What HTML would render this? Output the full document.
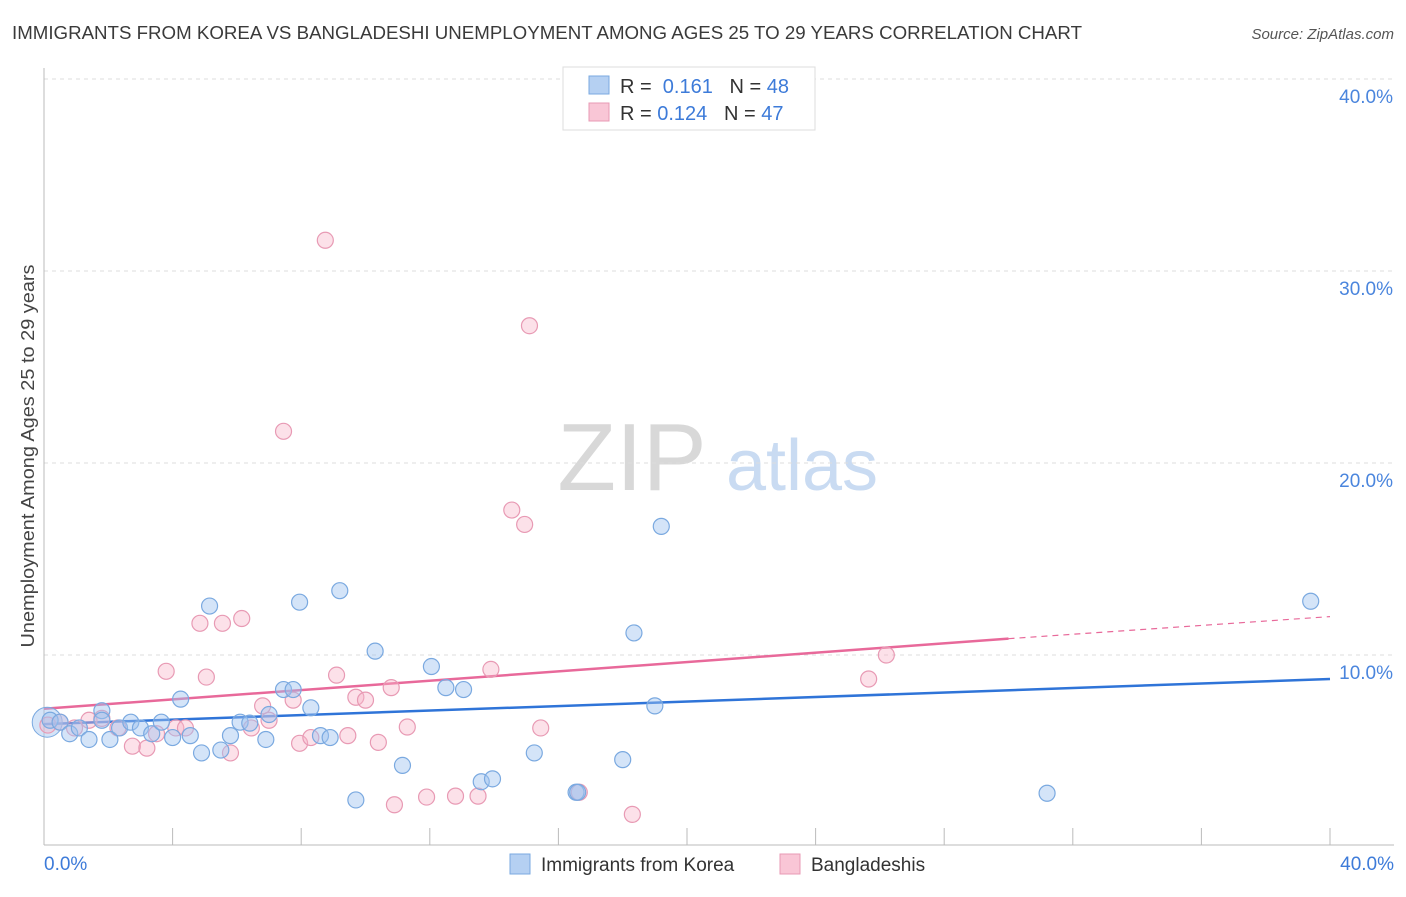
<!DOCTYPE html>
<html><head><meta charset="utf-8"><style>
body{margin:0;background:#fff;font-family:"Liberation Sans",sans-serif;}
svg text{font-family:"Liberation Sans",sans-serif;}
</style></head><body>
<svg id="chart" width="1406" height="892" xmlns="http://www.w3.org/2000/svg">
<text x="12" y="39" font-size="18" fill="#3a3a3a" textLength="1070" lengthAdjust="spacingAndGlyphs">IMMIGRANTS FROM KOREA VS BANGLADESHI UNEMPLOYMENT AMONG AGES 25 TO 29 YEARS CORRELATION CHART</text>
<text x="1394" y="39" font-size="15" fill="#555" text-anchor="end" font-style="italic">Source: ZipAtlas.com</text>
<g>
<text x="632" y="490" font-size="96" fill="#d8d8d8" text-anchor="middle" font-family="Liberation Serif,serif">ZIP</text>
<text x="802" y="490" font-size="72" fill="#c9dbf2" text-anchor="middle">atlas</text>
</g>
<g id="grid"></g><g id="axes"></g><g id="lines"></g><g id="pts"></g>
<text transform="translate(34,456) rotate(-90)" font-size="18" fill="#444" text-anchor="middle" textLength="383" lengthAdjust="spacingAndGlyphs">Unemployment Among Ages 25 to 29 years</text>
<g>
<rect x="563" y="67" width="252" height="63" fill="#fff" stroke="#ddd"/>
<rect x="589" y="76" width="20" height="18" fill="#b5d0f2" stroke="#7aa9e0"/>
<rect x="589" y="103" width="20" height="18" fill="#f9c6d6" stroke="#e89ab4"/>
<text x="620" y="93" font-size="20" fill="#333">R = <tspan fill="#3d7bd9">&#160;0.161</tspan>&#160;&#160;&#160;N = <tspan fill="#3d7bd9">48</tspan></text>
<text x="620" y="120" font-size="20" fill="#333">R = <tspan fill="#3d7bd9">0.124</tspan>&#160;&#160;&#160;N = <tspan fill="#3d7bd9">47</tspan></text>
</g>
<g>
<rect x="510" y="854" width="20" height="20" fill="#b5d0f2" stroke="#7aa9e0"/>
<text x="541" y="871" font-size="19" fill="#333">Immigrants from Korea</text>
<rect x="780" y="854" width="20" height="20" fill="#f9c6d6" stroke="#e89ab4"/>
<text x="811" y="871" font-size="19" fill="#333">Bangladeshis</text>
</g>
<text x="44" y="870" font-size="19" fill="#3d7bd9">0.0%</text>
<text x="1394" y="870" font-size="19" fill="#3d7bd9" text-anchor="end">40.0%</text>
</svg>
<script>
const yTicks=[10,20,30,40];
const blueX=[0.19,0.5,0.8,1.1,1.4,1.8,2.05,2.35,2.7,3.0,3.35,3.65,4.0,4.25,4.55,4.9,5.15,5.5,5.8,6.1,6.4,6.9,7.0,7.45,7.75,7.95,8.3,8.6,8.9,9.2,9.7,10.3,11.15,12.05,12.5,13.05,13.6,13.95,15.25,16.55,16.6,18.0,18.35,19.0,19.2,31.2,39.4,1.8];
const blueY=[6.6,6.5,5.9,6.2,5.6,7.1,5.6,6.2,6.5,6.2,5.9,6.5,5.7,7.7,5.8,4.9,12.55,5.05,5.8,6.5,6.45,5.6,6.9,8.2,8.2,12.75,7.25,5.8,5.7,13.35,2.45,10.2,4.25,9.4,8.3,8.2,3.4,3.55,4.9,2.85,2.85,4.55,11.15,7.35,16.7,2.8,12.8,6.6];
const pinkX=[0.12,0.5,0.95,1.4,1.8,2.3,2.75,3.2,3.5,3.8,4.1,4.4,4.85,5.05,5.55,5.8,6.15,6.45,6.8,7.0,7.45,7.75,7.95,8.3,8.75,9.1,9.45,9.7,10.0,10.4,10.8,10.9,11.3,11.9,12.8,13.5,13.9,14.55,14.95,15.1,15.45,16.65,18.3,25.65,26.2];
const pinkY=[6.35,6.5,6.2,6.6,6.7,6.2,5.25,5.15,5.9,9.15,6.2,6.2,11.65,8.85,11.65,4.9,11.9,6.2,7.35,6.6,21.65,7.65,5.4,5.7,31.6,8.95,5.8,7.8,7.65,5.45,8.3,2.2,6.25,2.6,2.65,2.65,9.25,17.55,16.8,27.15,6.2,2.85,1.7,8.75,10.0];
const blueLine=[6.4,8.75];
const pinkLine=[7.2,10.85,12.0];
const pinkSolidEnd=30;
const NS="http://www.w3.org/2000/svg";
const xs=v=>44+v*(1330-44)/40, ys=v=>847-v*19.2;
function mk(t,a,p){const e=document.createElementNS(NS,t);for(const k in a)e.setAttribute(k,a[k]);document.getElementById(p).appendChild(e);return e;}
yTicks.forEach(t=>{
 const l=mk('line',{x1:44,x2:1394,y1:ys(t),y2:ys(t),stroke:'#ddd','stroke-dasharray':'4,4'},'grid');
 
 
 const tx=mk('text',{x:1393,y:ys(t)+24,'font-size':19,fill:'#4a85dd','text-anchor':'end'},'grid');
 tx.textContent=t.toFixed(1)+'%';
 
 
});
const ax=mk('line',{x1:44,x2:44,y1:68,y2:845,stroke:'#bbb'},'axes');


const bx=mk('line',{x1:44,x2:1394,y1:845,y2:845,stroke:'#bbb'},'axes');


for(let i=0;i<=10;i++){const t=mk('line',{x1:xs(i*4),x2:xs(i*4),y1:828,y2:845,stroke:'#bbb'},'axes');
 
 }
function pts(X,Y,fill,stroke,name){X.forEach((x,i)=>{const c=mk('circle',{cx:xs(x),cy:ys(Y[i]),r:8,fill:fill,stroke:stroke,'stroke-width':1.2},'pts');
 
 });}
const bigB=mk('circle',{cx:xs(0.1),cy:ys(6.5),r:15,fill:'rgba(160,196,240,0.45)',stroke:'#7aa9e0'},'pts');


pts(pinkX,pinkY,'rgba(248,180,200,0.4)','#e89ab4','bangladeshi-point');
pts(blueX,blueY,'rgba(160,196,240,0.45)','#7aa9e0','korea-point');
const bl=mk('line',{x1:xs(0),y1:ys(blueLine[0]),x2:xs(40),y2:ys(blueLine[1]),stroke:'#2f74d8','stroke-width':2.5},'lines');


const pl=mk('line',{x1:xs(0),y1:ys(pinkLine[0]),x2:xs(pinkSolidEnd),y2:ys(pinkLine[1]),stroke:'#e8699a','stroke-width':2.5},'lines');


const pd=mk('line',{x1:xs(pinkSolidEnd),y1:ys(pinkLine[1]),x2:xs(40),y2:ys(pinkLine[2]),stroke:'#e8699a','stroke-width':1.2,'stroke-dasharray':'6,5'},'lines');


</script>
</body></html>
